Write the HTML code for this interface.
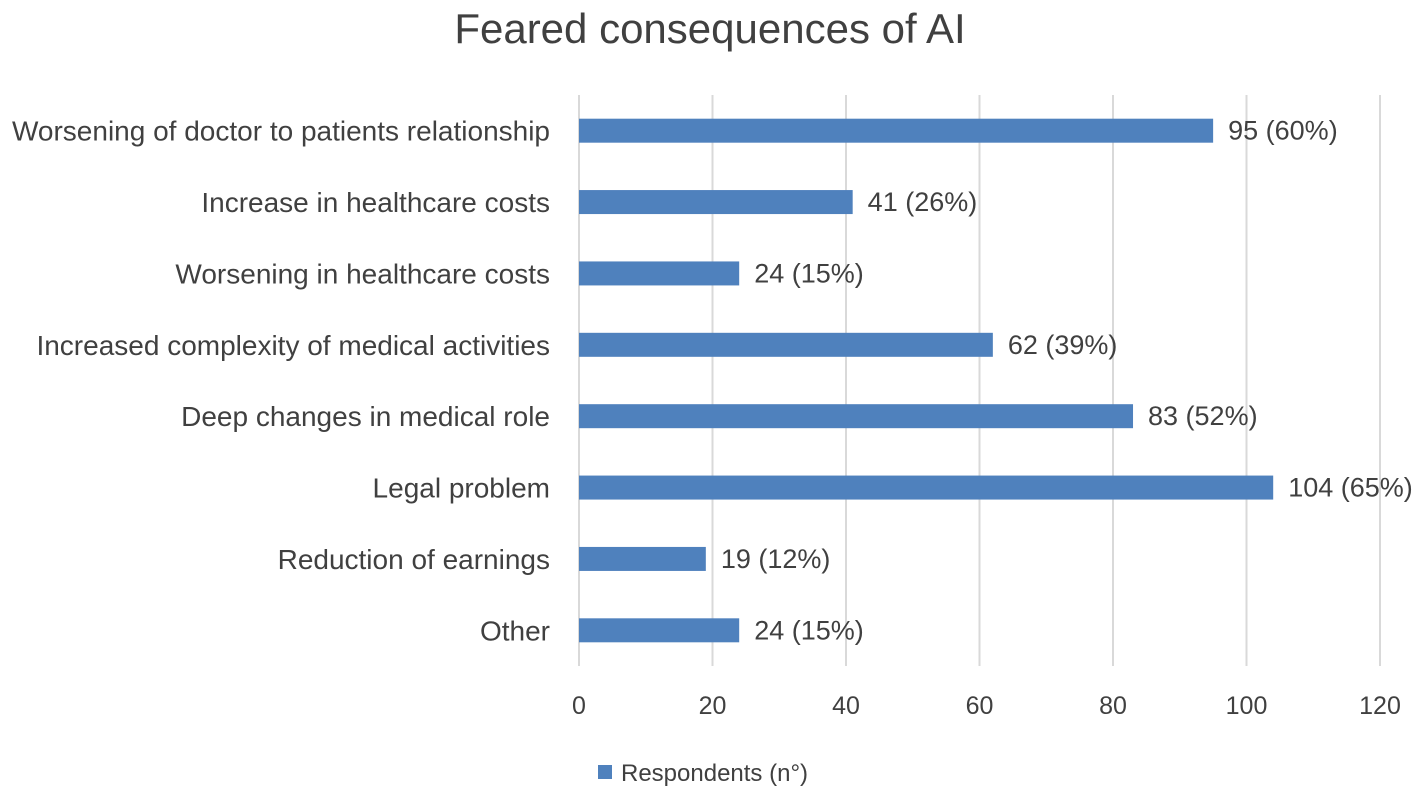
<!DOCTYPE html>
<html><head><meta charset="utf-8"><style>
body{margin:0;background:#fff;}
svg text{font-family:"Liberation Sans",sans-serif;fill:#404040;}
</style></head><body>
<svg width="1421" height="792">
<text x="710" y="43" text-anchor="middle" font-size="42">Feared consequences of AI</text>
<g id="grid"></g><g id="bars"></g>
<rect x="598" y="765" width="14" height="14" fill="#4f81bd"/>
<text x="621" y="781" font-size="24">Respondents (n°)</text>
</svg>
<script>
const categories=["Worsening of doctor to patients relationship","Increase in healthcare costs","Worsening in healthcare costs","Increased complexity of medical activities","Deep changes in medical role","Legal problem","Reduction of earnings","Other"];
const values=[95,41,24,62,83,104,19,24];
const labels=["95 (60%)","41 (26%)","24 (15%)","62 (39%)","83 (52%)","104 (65%)","19 (12%)","24 (15%)"];
const ticks=[0,20,40,60,80,100,120];
const NS="http://www.w3.org/2000/svg";
const x0=579,x1=1380,yTop=95,yBot=666;
const xs=v=>x0+(v/120)*(x1-x0);
const band=(yBot-yTop)/categories.length;
const ys=i=>yTop+band*(i+0.5);
const g=document.getElementById('grid'),b=document.getElementById('bars');
function mk(t,a,p){const e=document.createElementNS(NS,t);for(const k in a)e.setAttribute(k,a[k]);p.appendChild(e);return e;}
ticks.forEach(t=>{
 const l=mk('line',{x1:xs(t),x2:xs(t),y1:yTop,y2:yBot,stroke:'#d9d9d9','stroke-width':2},g);
 
 
 const tx=mk('text',{x:xs(t),y:714,'text-anchor':'middle','font-size':25},g);tx.textContent=t;
 
 
});
categories.forEach((c,i)=>{
 const y=ys(i);
 const r=mk('rect',{x:x0,y:y-12,width:xs(values[i])-x0,height:24,fill:'#4f81bd'},b);
 
 
 const t=mk('text',{x:550,y:y+10,'text-anchor':'end','font-size':28},b);t.textContent=c;
 
 
 const v=mk('text',{x:xs(values[i])+15,y:y+9,'font-size':27},b);v.textContent=labels[i];
 
 
});
</script>
</body></html>
